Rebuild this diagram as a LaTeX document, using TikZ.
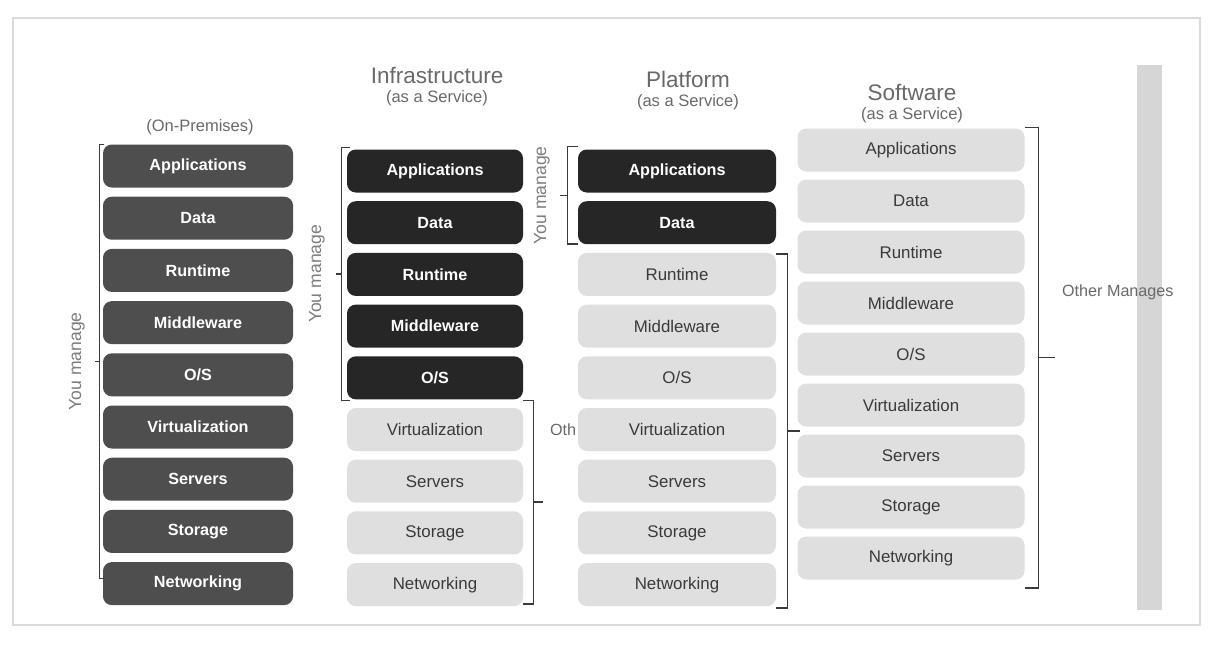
\documentclass[tikz,border=0pt]{standalone}
\usepackage{fontspec}
\setmainfont{Liberation Sans}
\usepackage{tikz}
\usetikzlibrary{positioning, calc}
\definecolor{premgray}{RGB}{78, 78, 78}
\definecolor{ownedgray}{RGB}{38, 38, 38}
\definecolor{hostedgray}{RGB}{223, 223, 223}
\definecolor{inkgray}{RGB}{58, 58, 58}
\definecolor{titlegray}{RGB}{105, 105, 105}
\definecolor{labelgray}{RGB}{125, 125, 125}
\definecolor{framegray}{RGB}{218, 218, 218}
\definecolor{bargray}{RGB}{214, 214, 214}
\tikzset{
    layer/.style={rectangle, rounded corners=5pt, minimum height=0.86cm, align=center, inner sep=2pt},
    premlayer/.style={layer, fill=premgray, text=white, minimum width=3.8cm, font=\fontsize{9.2}{11}\selectfont\bfseries},
    ownedlayer/.style={layer, fill=ownedgray, text=white, font=\fontsize{9.2}{11}\selectfont\bfseries},
    hostedlayer/.style={layer, fill=hostedgray, text=inkgray, font=\fontsize{9.6}{11}\selectfont},
    coltitle/.style={text=titlegray, inner sep=1pt, font=\fontsize{12.8}{14}\selectfont},
    colsub/.style={text=titlegray, inner sep=1pt, font=\fontsize{9.4}{11}\selectfont},
    manage/.style={text=labelgray, rotate=90, inner sep=2pt, font=\fontsize{10}{12}\selectfont},
    other/.style={text=titlegray, inner sep=1pt, font=\fontsize{9.2}{11}\selectfont},
    bracket/.style={draw=inkgray, line width=0.7pt}
}
\begin{document}
\begin{tikzpicture}
    \useasboundingbox (0, 0) rectangle (24.28, -12.92);
    \fill[white] (0, 0) rectangle (24.28, -12.92);
    \draw[framegray, line width=1pt] (0.26, -0.36) rectangle (24.0, -12.5);
    \fill[bargray] (22.74, -1.3) rectangle (23.24, -12.2);

    % column titles
    \node[colsub] (premsub) at (4.0, -2.54) {(On-Premises)};
    \node[coltitle] (iaastitle) at (8.74, -1.5) {Infrastructure};
    \node[colsub, below=0.06cm of iaastitle] (iaassub) {(as a Service)};
    \node[coltitle] (paastitle) at (13.76, -1.58) {Platform};
    \node[colsub, below=0.06cm of paastitle] (paassub) {(as a Service)};
    \node[coltitle] (saastitle) at (18.24, -1.84) {Software};
    \node[colsub, below=0.06cm of saastitle] (saassub) {(as a Service)};

    % on-premises stack
    \node[premlayer] (prem1) at (3.96, -3.32) {Applications};
    \node[premlayer, below=0.17cm of prem1] (prem2) {Data};
    \node[premlayer, below=0.17cm of prem2] (prem3) {Runtime};
    \node[premlayer, below=0.17cm of prem3] (prem4) {Middleware};
    \node[premlayer, below=0.17cm of prem4] (prem5) {O/S};
    \node[premlayer, below=0.17cm of prem5] (prem6) {Virtualization};
    \node[premlayer, below=0.17cm of prem6] (prem7) {Servers};
    \node[premlayer, below=0.17cm of prem7] (prem8) {Storage};
    \node[premlayer, below=0.17cm of prem8] (prem9) {Networking};
    \coordinate (premtop) at ($(prem1.north west)+(-0.06,0)$);
    \coordinate (premend) at ($(prem9.west)+(-0.06,0.1)$);
    \draw[bracket] ($(premtop)+(0.08,0)$) -- (premtop) -- (premend) -- ($(premend)+(0.08,0)$);
    \draw[bracket] ($(premtop)!0.5!(premend)$) -- ++(-0.1,0) coordinate (premtick);
    \node[manage, anchor=south] (premyou) at ($(premtick)+(-0.12,0)$) {You manage};

    % infrastructure stack
    \node[ownedlayer, minimum width=3.52cm] (iaas1) at (8.7, -3.42) {Applications};
    \node[ownedlayer, minimum width=3.52cm, below=0.16cm of iaas1] (iaas2) {Data};
    \node[ownedlayer, minimum width=3.52cm, below=0.16cm of iaas2] (iaas3) {Runtime};
    \node[ownedlayer, minimum width=3.52cm, below=0.16cm of iaas3] (iaas4) {Middleware};
    \node[ownedlayer, minimum width=3.52cm, below=0.16cm of iaas4] (iaas5) {O/S};
    \node[hostedlayer, minimum width=3.52cm, below=0.16cm of iaas5] (iaas6) {Virtualization};
    \node[hostedlayer, minimum width=3.52cm, below=0.16cm of iaas6] (iaas7) {Servers};
    \node[hostedlayer, minimum width=3.52cm, below=0.16cm of iaas7] (iaas8) {Storage};
    \node[hostedlayer, minimum width=3.52cm, below=0.16cm of iaas8] (iaas9) {Networking};
    \coordinate (iaastop) at ($(iaas1.north west)+(-0.1,0.03)$);
    \coordinate (iaasend) at ($(iaas5.south west)+(-0.1,-0.01)$);
    \draw[bracket] ($(iaastop)+(0.16,0)$) -- (iaastop) -- (iaasend) -- ($(iaasend)+(0.16,0)$);
    \draw[bracket] ($(iaastop)!0.5!(iaasend)$) -- ++(-0.12,0) coordinate (iaastick);
    \node[manage, anchor=south] (iaasyou) at ($(iaastick)+(-0.14,0)$) {You manage};
    \coordinate (iaasrtop) at ($(iaas5.south east)+(0.2,-0.01)$);
    \coordinate (iaasrend) at ($(iaas9.south east)+(0.2,0.05)$);
    \draw[bracket] ($(iaasrtop)+(-0.2,0)$) -- (iaasrtop) -- (iaasrend) -- ($(iaasrend)+(-0.2,0)$);
    \draw[bracket] ($(iaasrtop)!0.5!(iaasrend)$) -- ++(0.2,0) coordinate (iaasrtick);
    \node[other, anchor=west] (iaasother) at (10.96, -8.6) {Oth};

    % platform stack
    \node[ownedlayer, minimum width=3.96cm] (paas1) at (13.54, -3.42) {Applications};
    \node[ownedlayer, minimum width=3.96cm, below=0.16cm of paas1] (paas2) {Data};
    \node[hostedlayer, minimum width=3.96cm, below=0.16cm of paas2] (paas3) {Runtime};
    \node[hostedlayer, minimum width=3.96cm, below=0.16cm of paas3] (paas4) {Middleware};
    \node[hostedlayer, minimum width=3.96cm, below=0.16cm of paas4] (paas5) {O/S};
    \node[hostedlayer, minimum width=3.96cm, below=0.16cm of paas5] (paas6) {Virtualization};
    \node[hostedlayer, minimum width=3.96cm, below=0.16cm of paas6] (paas7) {Servers};
    \node[hostedlayer, minimum width=3.96cm, below=0.16cm of paas7] (paas8) {Storage};
    \node[hostedlayer, minimum width=3.96cm, below=0.16cm of paas8] (paas9) {Networking};
    \coordinate (paastop) at ($(paas1.north west)+(-0.2,0.05)$);
    \coordinate (paasend) at ($(paas2.south west)+(-0.2,0.01)$);
    \draw[bracket] ($(paastop)+(0.2,0)$) -- (paastop) -- (paasend) -- ($(paasend)+(0.2,0)$);
    \draw[bracket] ($(paastop)!0.5!(paasend)$) -- ++(-0.16,0) coordinate (paastick);
    \node[manage, anchor=south] (paasyou) at ($(paastick)+(-0.12,0)$) {You manage};
    \coordinate (paasrtop) at ($(paas3.north east)+(0.22,-0.03)$);
    \coordinate (paasrend) at ($(paas9.south east)+(0.22,-0.03)$);
    \draw[bracket] ($(paasrtop)+(-0.22,0)$) -- (paasrtop) -- (paasrend) -- ($(paasrend)+(-0.22,0)$);
    \draw[bracket] ($(paasrtop)!0.5!(paasrend)$) -- ++(0.26,0) coordinate (paasrtick);

    % software stack
    \node[hostedlayer, minimum width=4.54cm] (saas1) at (18.22, -3.0) {Applications};
    \node[hostedlayer, minimum width=4.54cm, below=0.146cm of saas1] (saas2) {Data};
    \node[hostedlayer, minimum width=4.54cm, below=0.146cm of saas2] (saas3) {Runtime};
    \node[hostedlayer, minimum width=4.54cm, below=0.146cm of saas3] (saas4) {Middleware};
    \node[hostedlayer, minimum width=4.54cm, below=0.146cm of saas4] (saas5) {O/S};
    \node[hostedlayer, minimum width=4.54cm, below=0.146cm of saas5] (saas6) {Virtualization};
    \node[hostedlayer, minimum width=4.54cm, below=0.146cm of saas6] (saas7) {Servers};
    \node[hostedlayer, minimum width=4.54cm, below=0.146cm of saas7] (saas8) {Storage};
    \node[hostedlayer, minimum width=4.54cm, below=0.146cm of saas8] (saas9) {Networking};
    \coordinate (saasrtop) at ($(saas1.north east)+(0.27,0.01)$);
    \coordinate (saasrend) at ($(saas9.south east)+(0.27,-0.16)$);
    \draw[bracket] ($(saasrtop)+(-0.27,0)$) -- (saasrtop) -- (saasrend) -- ($(saasrend)+(-0.27,0)$);
    \draw[bracket] ($(saasrtop)!0.5!(saasrend)$) -- ++(0.34,0) coordinate (saasrtick);
    \node[other, anchor=west] (saasother) at (21.2, -5.84) {Other Manages};
\end{tikzpicture}
\end{document}
